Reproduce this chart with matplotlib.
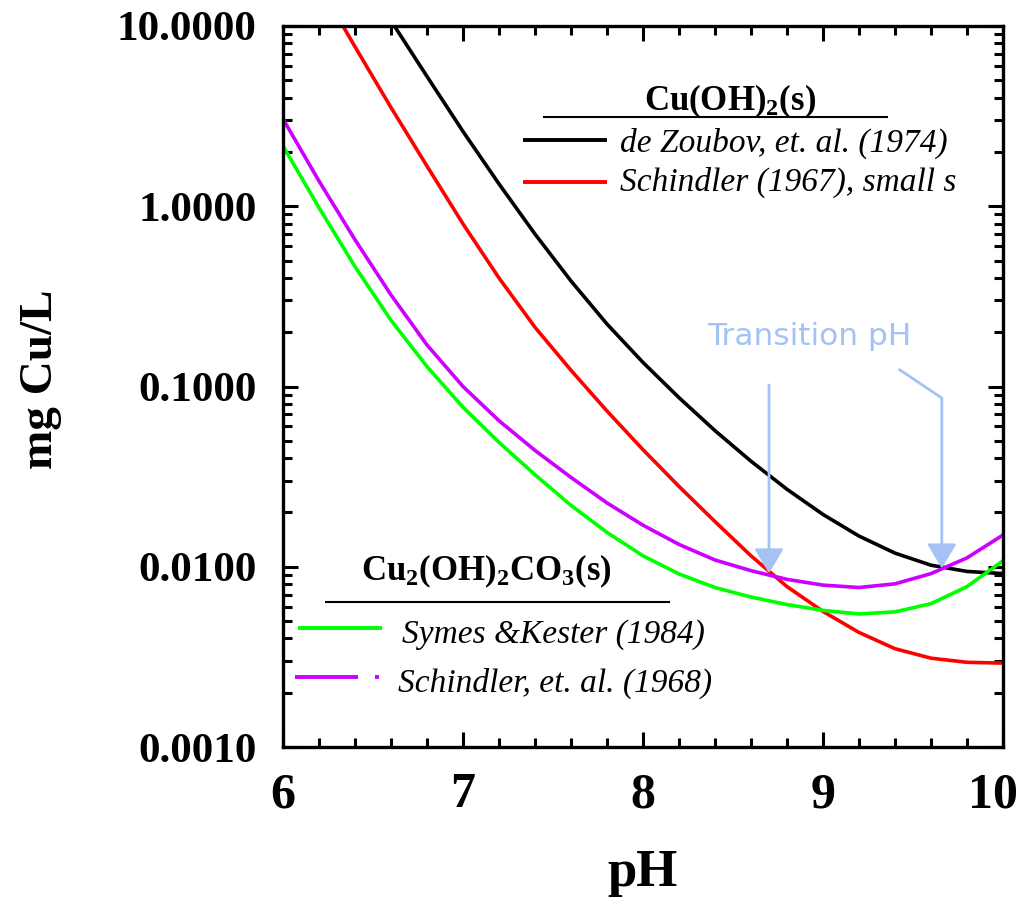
import matplotlib
matplotlib.use('Agg')
import matplotlib.pyplot as plt
from matplotlib.ticker import FixedLocator, LogLocator, NullFormatter
from matplotlib.lines import Line2D
from matplotlib.transforms import ScaledTranslation

plt.rcParams['mathtext.fontset'] = 'custom'
plt.rcParams['mathtext.rm'] = 'Liberation Serif:bold'
plt.rcParams['mathtext.bf'] = 'Liberation Serif:bold'
plt.rcParams['mathtext.it'] = 'Liberation Serif:bold'

# Cu(OH)2(s) solubility, mg Cu/L
ph_zoubov = [6.6, 6.8, 7.0, 7.2, 7.4, 7.6, 7.8, 8.0, 8.2, 8.4, 8.6, 8.8, 9.0, 9.2, 9.4, 9.6, 9.8, 10.0]
cu_zoubov = [10.7, 5.25, 2.60, 1.33, 0.701, 0.385, 0.222, 0.136, 0.0867, 0.0569, 0.0385, 0.0269,
             0.0195, 0.0148, 0.0119, 0.0102, 0.00942, 0.00916]

ph_schindler67 = [6.3, 6.4, 6.6, 6.8, 7.0, 7.2, 7.4, 7.6, 7.8, 8.0, 8.2, 8.4, 8.6, 8.8, 9.0, 9.2, 9.4, 9.6, 9.8, 10.0]
cu_schindler67 = [11.4, 7.67, 3.53, 1.67, 0.798, 0.400, 0.213, 0.123, 0.0731, 0.0446, 0.0279, 0.0178,
                  0.0115, 0.00776, 0.00565, 0.00432, 0.00351, 0.00311, 0.00295, 0.00292]

# Cu2(OH)2CO3(s) (malachite) solubility, mg Cu/L
ph_malachite = [6.0, 6.2, 6.4, 6.6, 6.8, 7.0, 7.2, 7.4, 7.6, 7.8, 8.0, 8.2, 8.4, 8.6, 8.8, 9.0, 9.2, 9.4, 9.6, 9.8, 10.0]
cu_symes = [2.16, 0.982, 0.462, 0.233, 0.129, 0.0767, 0.0490, 0.0324, 0.0219, 0.0155, 0.0115, 0.00912,
            0.00767, 0.00679, 0.00617, 0.00573, 0.00547, 0.00562, 0.00624, 0.00776, 0.0108]
cu_schindler68 = [3.05, 1.38, 0.652, 0.322, 0.170, 0.100, 0.0646, 0.0442, 0.0313, 0.0226, 0.0170, 0.0133,
                  0.0109, 0.00951, 0.00851, 0.00791, 0.00767, 0.00804, 0.00916, 0.0112, 0.0150]

# transition points (pH, mg/L at arrow tip)
transition_ph = [8.70, 9.66]
transition_cu = [0.0092, 0.0098]

y_ticks = [0.001, 0.01, 0.1, 1.0, 10.0]
y_tick_labels = ['0.0010', '0.0100', '0.1000', '1.0000', '10.0000']
x_ticks = [6, 7, 8, 9, 10]

W, H = 1020, 898
serif = 'Liberation Serif'
arrow_blue = '#a4c2f4'
purple = '#cc00ff'


def pix_line(fig, x0, x1, y, color, lw):
    # short key line, positions in pixels from the top-left
    fig.add_artist(Line2D([x0 / W, x1 / W], [1 - y / H, 1 - y / H], color=color, lw=lw,
                          transform=fig.transFigure, solid_capstyle='butt'))


def pix_text(fig, x, y, s, **kw):
    return fig.text(x / W, 1 - y / H, s, **kw)


fig = plt.figure(figsize=(W / 100, H / 100), dpi=100)
ax = fig.add_axes([283 / W, 1 - 747 / H, 720 / W, 721 / H])

lw = 2.6
ax.plot(ph_zoubov, cu_zoubov, color='black', lw=lw)
ax.plot(ph_schindler67, cu_schindler67, color='#ff0000', lw=lw)
ax.plot(ph_malachite, cu_symes, color='#00ff00', lw=lw)
ax.plot(ph_malachite, cu_schindler68, color=purple, lw=lw)

ax.set_yscale('log')
ax.set_xlim(6, 10)
ax.set_ylim(0.001, 10)

for side in ax.spines.values():
    side.set_linewidth(2.4)

ax.xaxis.set_major_locator(FixedLocator(x_ticks))
ax.xaxis.set_minor_locator(FixedLocator([6 + 0.2 * i for i in range(21)]))
ax.set_xticklabels([str(t) for t in x_ticks], family=serif, weight='bold', size=36)
ax.set_yticks(y_ticks)
ax.set_yticklabels(y_tick_labels, family=serif, weight='bold', size=31)
ax.yaxis.set_minor_locator(LogLocator(base=10, subs=range(2, 10)))
ax.yaxis.set_minor_formatter(NullFormatter())
ax.tick_params(which='both', direction='in', top=True, right=True, width=2.2)
ax.tick_params(which='major', length=11)
ax.tick_params(which='minor', length=6.5)
ax.tick_params(axis='y', which='major', pad=19)
ax.tick_params(axis='x', which='major', pad=18)

# keep the last pH label inside the figure edge
last = ax.get_xticklabels()[-1]
last.set_horizontalalignment('right')
last.set_transform(last.get_transform() + ScaledTranslation(0.15, 0, fig.dpi_scale_trans))

ax.set_xlabel('pH', family=serif, weight='bold', size=38, labelpad=22)
ax.set_ylabel('mg Cu/L', family=serif, weight='bold', size=34)
ax.yaxis.set_label_coords(-0.307, 0.51)

# Cu(OH)2(s) key
pix_text(fig, 730, 110, r'$\mathbf{Cu(OH)_2(s)}$', size=25, ha='center', va='baseline')
pix_line(fig, 543, 888, 117, 'black', 1.5)
pix_line(fig, 523, 607, 140, 'black', 2.8)
pix_line(fig, 523, 607, 182, '#ff0000', 2.8)
italic = dict(family=serif, style='italic', size=24, va='baseline')
pix_text(fig, 620, 152, 'de Zoubov, et. al. (1974)', **italic)
pix_text(fig, 620, 191, 'Schindler (1967), small s', **italic)

# Cu2(OH)2CO3(s) key
pix_text(fig, 486, 580, r'$\mathbf{Cu_2(OH)_2CO_3(s)}$', size=25, ha='center', va='baseline')
pix_line(fig, 325, 670, 602, 'black', 1.5)
pix_line(fig, 298, 382, 628, '#00ff00', 2.8)
pix_line(fig, 295, 358, 677, purple, 2.8)
pix_line(fig, 375, 379, 677, purple, 2.8)
pix_text(fig, 402, 643, 'Symes &Kester (1984)', **italic)
pix_text(fig, 398, 692, 'Schindler, et. al. (1968)', **italic)

# transition pH arrows
pix_text(fig, 707, 345, 'Transition pH', color=arrow_blue, family='DejaVu Sans', size=22.5, va='baseline')
head = dict(arrowstyle='-|>,head_length=1.0,head_width=0.6', color=arrow_blue, lw=2,
            shrinkA=0, shrinkB=0, mutation_scale=15)
ax.annotate('', xy=(transition_ph[0], transition_cu[0]), xytext=(transition_ph[0], 0.102), arrowprops=head)
ax.plot([9.42, transition_ph[1]], [0.125, 0.0863], color=arrow_blue, lw=2, solid_capstyle='butt')
ax.annotate('', xy=(transition_ph[1], transition_cu[1]), xytext=(transition_ph[1], 0.0863), arrowprops=head)

fig.savefig('out.png', dpi=100)
